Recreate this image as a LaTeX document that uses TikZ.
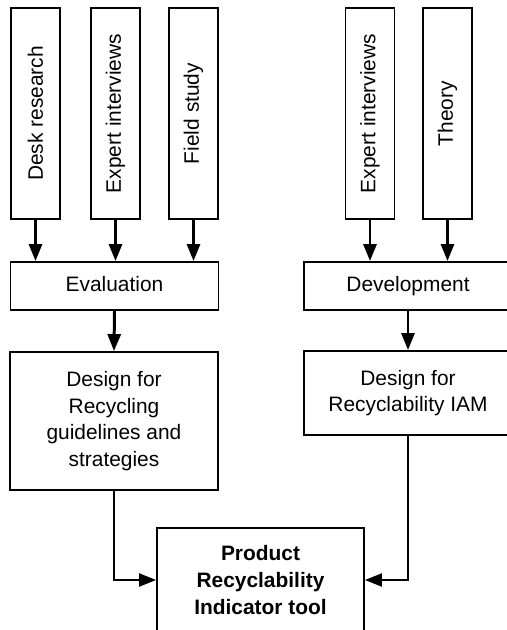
\documentclass[tikz,border=0pt]{standalone}
\usepackage{fontspec}
\setmainfont{Liberation Sans}
\usetikzlibrary{arrows.meta}

\tikzset{
  box/.style={draw, line width=1.1pt, align=center, inner sep=0pt,
    font=\fontsize{11.9}{15.2}\selectfont},
  srcbox/.style={box, minimum width=0.98cm, minimum height=4.22cm},
  wide/.style={box, minimum width=4.16cm},
  stagebox/.style={wide, minimum height=0.96cm, text height=1.75ex, text depth=0.5ex},
  flow/.style={line width=1.7pt, -{Triangle[length=0.34cm,width=0.26cm]}},
  merge/.style={line width=1.2pt, -{Triangle[length=0.34cm,width=0.26cm]}}
}

\begin{document}
\begin{tikzpicture}[x=0.02cm,y=-0.02cm]
\clip (0,0) rectangle (507,630);
% sources
\node[srcbox] (desk) at (35.5,113.5) {\rotatebox{90}{Desk research}};
\node[srcbox] (expa) at (115.5,113.5) {\rotatebox{90}{Expert interviews}};
\node[srcbox] (field) at (193.5,113.5) {\rotatebox{90}{Field study}};
\node[srcbox] (expb) at (370,113.5) {\rotatebox{90}{Expert interviews}};
\node[srcbox] (theory) at (447.5,113.5) {\rotatebox{90}{Theory}};
% middle row
\node[stagebox] (eval) at (114.5,286) {Evaluation};
\node[stagebox] (devel) at (408,286) {Development};
\node[wide, minimum height=2.76cm] (dfr) at (114,421) {Design for\\Recycling\\guidelines and\\strategies};
\node[wide, minimum height=1.68cm] (iam) at (408,393) {Design for\\Recyclability IAM};
% result
\node[wide, minimum width=4.14cm, minimum height=2.08cm, font=\fontsize{11.9}{15.4}\selectfont\bfseries] (tool) at (260.5,580) {Product\\Recyclability\\Indicator tool};

\draw[flow] (desk.south) -- (desk.south |- eval.north);
\draw[flow] (expa.south) -- (expa.south |- eval.north);
\draw[flow] (field.south) -- (field.south |- eval.north);
\draw[flow] (expb.south) -- (expb.south |- devel.north);
\draw[flow] (theory.south) -- (theory.south |- devel.north);
\draw[flow] (eval.south) -- (dfr.north);
\draw[flow] (devel.south) -- (iam.north);
\draw[merge] (dfr.south) |- (tool.west);
\draw[merge] (iam.south) |- (tool.east);
\end{tikzpicture}
\end{document}
